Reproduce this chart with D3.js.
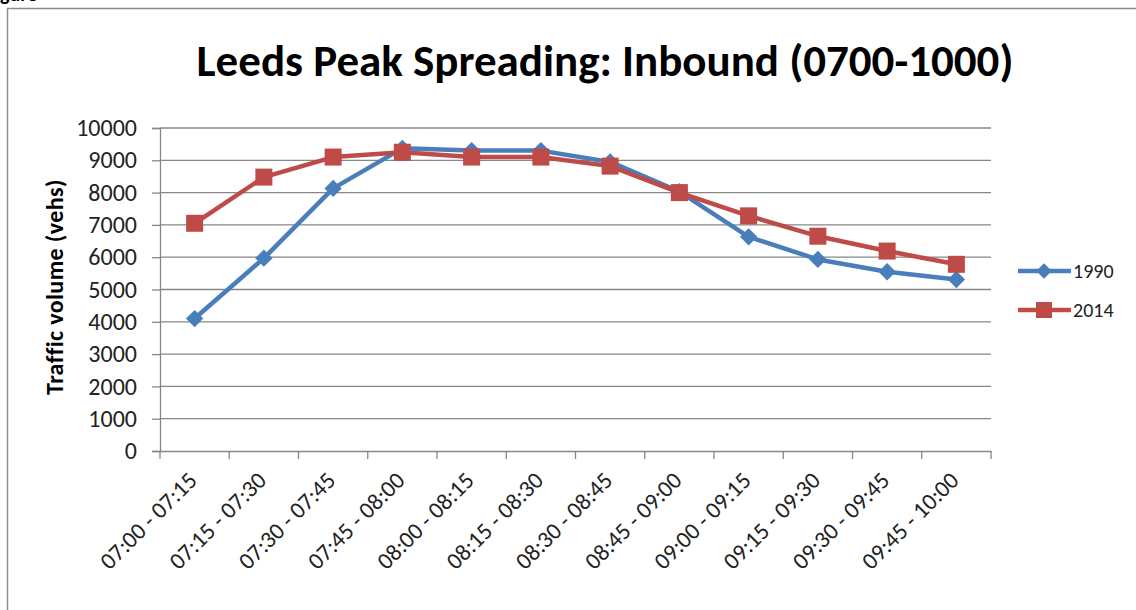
<!DOCTYPE html>
<html>
<head>
<meta charset="utf-8">
<script src="https://cdn.jsdelivr.net/npm/d3@7"></script>
<style>
  body { margin: 0; background: #fff; }
  svg { display: block; }
</style>
</head>
<body>
<svg id="chart"></svg>
<script>
// chart data
const periods = ["07:00 - 07:15", "07:15 - 07:30", "07:30 - 07:45", "07:45 - 08:00",
                 "08:00 - 08:15", "08:15 - 08:30", "08:30 - 08:45", "08:45 - 09:00",
                 "09:00 - 09:15", "09:15 - 09:30", "09:30 - 09:45", "09:45 - 10:00"];
const vols1990 = [4100, 5970, 8130, 9370, 9300, 9300, 8950, 8030, 6630, 5930, 5550, 5310];
const vols2014 = [7050, 8480, 9100, 9250, 9100, 9100, 8820, 8000, 7280, 6650, 6190, 5780];
const yTicks = [0, 1000, 2000, 3000, 4000, 5000, 6000, 7000, 8000, 9000, 10000];
const seriesNames = ["1990", "2014"];

const width = 1136, height = 610;
const margin = {top: 128, right: 145, bottom: 159, left: 160};
const svg = d3.select("#chart").attr("width", width).attr("height", height);
const font = "Calibri, Carlito, 'Open Sans', sans-serif";
const gridCol = "#878787";

// outer frame, mostly cut off at right/bottom
svg.append("rect")
    .attr("x", 7.5).attr("y", 8.5)
    .attr("width", 1140).attr("height", 620)
    .attr("fill", "none").attr("stroke", "#8c8c8c").attr("stroke-width", 1.5);

// caption of the page, cut by the top edge
svg.append("text")
    .attr("x", -14).attr("y", 1)
    .attr("font-family", font).attr("font-weight", "bold").attr("font-size", 20)
    .text("Figure");

const x = d3.scaleBand().domain(periods)
    .range([margin.left, width - margin.right]);
const y = d3.scaleLinear().domain([0, 10000])
    .range([height - margin.bottom, margin.top]);
const cx = p => x(p) + x.bandwidth() / 2;

// gridlines
svg.append("g").selectAll("line").data(yTicks.slice(1)).enter()
    .append("line")
    .attr("x1", margin.left).attr("x2", width - margin.right)
    .attr("y1", d => y(d)).attr("y2", d => y(d))
    .attr("stroke", gridCol).attr("stroke-width", 1.3);

// y axis
const yAxis = svg.append("g")
    .attr("transform", `translate(${margin.left},0)`)
    .call(d3.axisLeft(y).tickValues(yTicks).tickSize(8).tickPadding(15).tickFormat(d3.format("d")));
yAxis.select(".domain").attr("stroke", gridCol).attr("stroke-width", 1.3);
yAxis.selectAll(".tick line").attr("stroke", gridCol).attr("stroke-width", 1.3);
yAxis.selectAll("text").attr("font-family", font).attr("font-size", 24).attr("fill", "#222");

// x axis
const xAxis = svg.append("g")
    .attr("transform", `translate(0,${height - margin.bottom})`)
    .call(d3.axisBottom(x).tickSize(0).tickFormat(""));
xAxis.select(".domain").attr("stroke", gridCol).attr("stroke-width", 1.3);

// category boundary ticks
const bounds = periods.map(p => x(p)).concat([x(periods[periods.length - 1]) + x.bandwidth()]);
svg.append("g").selectAll("line").data(bounds).enter()
    .append("line")
    .attr("x1", d => d).attr("x2", d => d)
    .attr("y1", height - margin.bottom).attr("y2", height - margin.bottom + 8)
    .attr("stroke", gridCol).attr("stroke-width", 1.3);

svg.append("g").selectAll("text").data(periods).enter()
    .append("text")
    .attr("transform", d => `translate(${cx(d) - 2},${height - margin.bottom + 25}) rotate(-45)`)
    .attr("text-anchor", "end")
    .attr("dy", "0.35em")
    .attr("font-family", font).attr("font-size", 23.5).attr("fill", "#222")
    .text(d => d);

// title
svg.append("text")
    .attr("x", 605).attr("y", 76)
    .attr("text-anchor", "middle")
    .attr("font-family", font).attr("font-weight", "bold").attr("font-size", 45)
    .text("Leeds Peak Spreading: Inbound (0700-1000)");

// y axis title
svg.append("text")
    .attr("transform", "translate(63,287) rotate(-90)")
    .attr("text-anchor", "middle")
    .attr("font-family", font).attr("font-weight", "bold").attr("font-size", 24)
    .attr("letter-spacing", 0.4)
    .text("Traffic volume (vehs)");

const line = d3.line()
    .x((d, i) => cx(periods[i]))
    .y(d => y(d));

const colors = ["#4a7ebb", "#be4b48"];
const diamond = d3.symbol().type(d3.symbolSquare).size(150);

// 1990 series
svg.append("path").datum(vols1990)
    .attr("d", line).attr("fill", "none")
    .attr("stroke", colors[0]).attr("stroke-width", 4.5).attr("stroke-linejoin", "round");
svg.append("g").selectAll("path").data(vols1990).enter()
    .append("path")
    .attr("d", diamond)
    .attr("transform", (d, i) => `translate(${cx(periods[i])},${y(d)}) rotate(45)`)
    .attr("fill", colors[0]);

// 2014 series
svg.append("path").datum(vols2014)
    .attr("d", line).attr("fill", "none")
    .attr("stroke", colors[1]).attr("stroke-width", 4.5).attr("stroke-linejoin", "round");
svg.append("g").selectAll("rect").data(vols2014).enter()
    .append("rect")
    .attr("x", (d, i) => cx(periods[i]) - 8.5)
    .attr("y", d => y(d) - 8.5)
    .attr("width", 17).attr("height", 17)
    .attr("fill", colors[1]);

// legend
const legend = svg.append("g").attr("transform", "translate(1018,271)");
seriesNames.forEach((name, i) => {
    const g = legend.append("g").attr("transform", `translate(0,${i * 39})`);
    g.append("line").attr("x1", 0).attr("x2", 53).attr("y1", 0).attr("y2", 0)
        .attr("stroke", colors[i]).attr("stroke-width", 4.5);
    if (i === 0) {
        g.append("path").attr("d", d3.symbol().type(d3.symbolSquare).size(120))
            .attr("transform", "translate(26,0) rotate(45)").attr("fill", colors[i]);
    } else {
        g.append("rect").attr("x", 18).attr("y", -8).attr("width", 16).attr("height", 16)
            .attr("fill", colors[i]);
    }
    g.append("text").attr("x", 55).attr("y", 0).attr("dy", "0.35em")
        .attr("font-family", font).attr("font-size", 20).attr("fill", "#222")
        .text(name);
});
</script>
</body>
</html>
